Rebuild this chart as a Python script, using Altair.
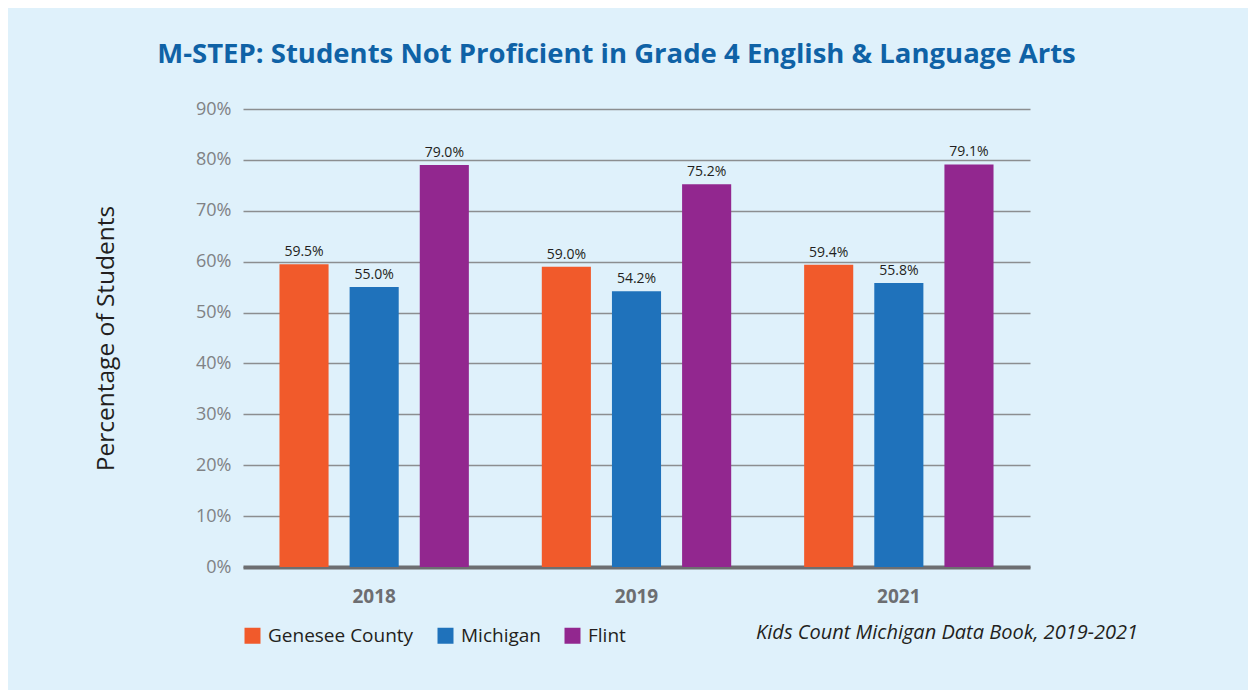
import altair as alt
import pandas as pd

years = ["2018", "2019", "2021"]
series = ["Genesee County", "Michigan", "Flint"]
genesee = [59.5, 59.0, 59.4]
michigan = [55.0, 54.2, 55.8]
flint = [79.0, 75.2, 79.1]
colors = ["#f15a2b", "#1f72bb", "#92278f"]
y_ticks = [0, 10, 20, 30, 40, 50, 60, 70, 80, 90]

rows = []
for name, vals in zip(series, [genesee, michigan, flint]):
    for yr, v in zip(years, vals):
        rows.append({"Year": yr, "Series": name, "Value": v, "Label": f"{v:.1f}%"})
df = pd.DataFrame(rows)

FONT = "Open Sans"

x_enc = alt.X("Year:N", sort=years,
              scale=alt.Scale(paddingInner=0, paddingOuter=0),
              axis=alt.Axis(title=None, labelAngle=0, labelFont=FONT, labelFontSize=19,
                            labelFontWeight="bold", labelColor="#6d6e71", labelPadding=20,
                            ticks=False, domainColor="#6d6e71", domainWidth=4))
xo_enc = alt.XOffset("Series:N", sort=series,
                     scale=alt.Scale(paddingInner=0.3, paddingOuter=0.52))

bars = alt.Chart(df).mark_bar().encode(
    x=x_enc,
    xOffset=xo_enc,
    y=alt.Y("Value:Q", scale=alt.Scale(domain=[0, 90]),
            axis=alt.Axis(title="Percentage of Students", values=y_ticks,
                          labelExpr="datum.value + '%'", labelFont=FONT, labelFontSize=18,
                          labelColor="#808285", labelPadding=12, domain=False, ticks=False,
                          gridColor="#8c8e90", gridWidth=1.5, titleFont=FONT,
                          titleFontSize=24.5, titleFontWeight="normal", titleColor="#231f20",
                          titlePadding=77)),
    color=alt.Color("Series:N", sort=series,
                    scale=alt.Scale(domain=series, range=colors),
                    legend=alt.Legend(title=None, orient="none", direction="horizontal",
                                      legendX=0, legendY=517, symbolType="square",
                                      symbolSize=256, symbolStrokeWidth=0, labelFont=FONT,
                                      labelFontSize=19, labelColor="#231f20", columnPadding=22,
                                      labelOffset=6)),
)

labels = alt.Chart(df).mark_text(baseline="bottom", dy=-5, font=FONT, fontSize=14,
                                 color="#231f20").encode(
    x=alt.X("Year:N", sort=years), xOffset=alt.XOffset("Series:N", sort=series),
    y="Value:Q", text="Label:N")

source = alt.Chart(pd.DataFrame({"t": ["Kids Count Michigan Data Book, 2019-2021"]})).mark_text(
    align="right", baseline="middle", font=FONT, fontSize=20, fontStyle="italic",
    color="#231f20").encode(x=alt.value(895), y=alt.value(524), text="t:N")

chart = alt.layer(bars, labels, source).properties(
    width=787, height=458,
    background="#dff1fb",
    autosize=alt.AutoSizeParams(type="none"),
    padding={"left": 235, "top": 101, "right": 218, "bottom": 123},
    title=alt.TitleParams("M-STEP: Students Not Proficient in Grade 4 English & Language Arts",
                          font=FONT, fontSize=27.5, fontWeight="bold", color="#0f62a6",
                          anchor="middle", dx=-20, offset=32),
).configure_view(stroke=None)

chart.save("out.html", embed_options={"renderer": "svg", "actions": False})
